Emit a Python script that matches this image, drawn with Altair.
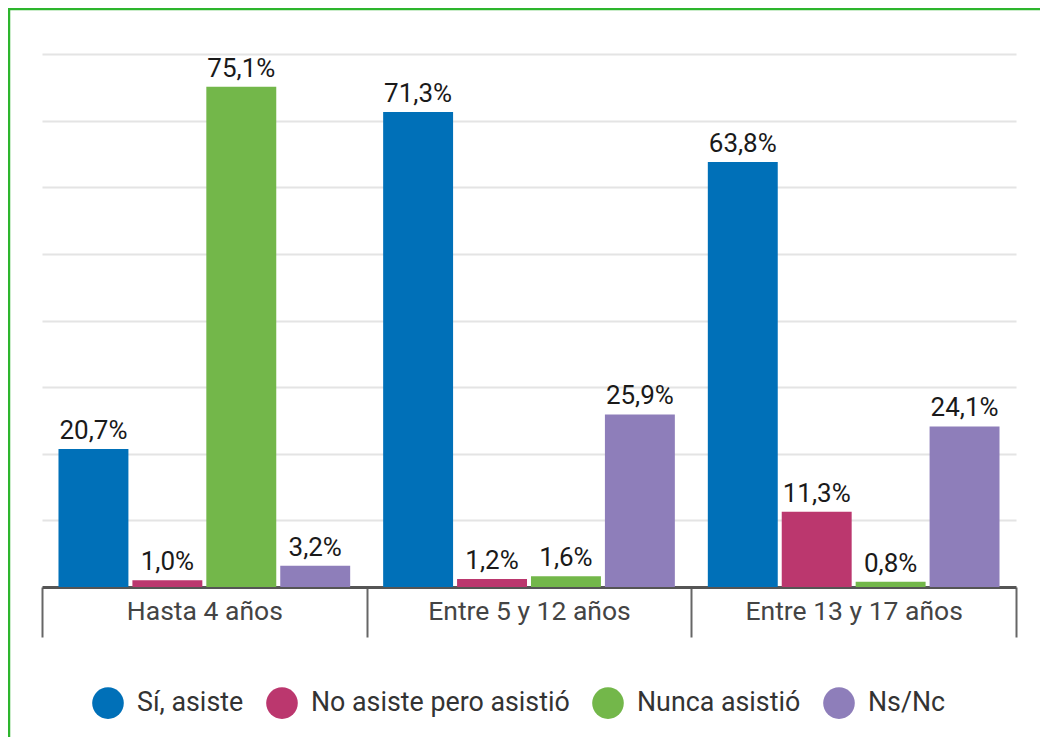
import altair as alt
import pandas as pd

grupos = ["Hasta 4 años", "Entre 5 y 12 años", "Entre 13 y 17 años"]
series = ["Sí, asiste", "No asiste pero asistió", "Nunca asistió", "Ns/Nc"]
colores = ["#0070b8", "#bb376e", "#73b74a", "#8e7eba"]
valores = {
    "Sí, asiste": [20.7, 71.3, 63.8],
    "No asiste pero asistió": [1.0, 1.2, 11.3],
    "Nunca asistió": [75.1, 1.6, 0.8],
    "Ns/Nc": [3.2, 25.9, 24.1],
}

rows = []
for s in series:
    for g, v in zip(grupos, valores[s]):
        rows.append({"grupo": g, "serie": s, "valor": v,
                     "etiqueta": f"{v:.1f}".replace(".", ",") + "%"})
df = pd.DataFrame(rows)

W, H = 974, 533
FONT = "Roboto"

x_enc = alt.X("grupo:N", sort=grupos,
              scale=alt.Scale(paddingInner=0, paddingOuter=0),
              axis=alt.Axis(title=None, tickBand="extent", tickSize=50, tickWidth=2,
                            tickColor="#666666", domainColor="#555555", domainWidth=3,
                            labelFont=FONT, labelFontSize=26.5, labelColor="#444444",
                            labelBaseline="middle", labelPadding=-26, grid=False,
                            labelAngle=0, labelLimit=400))
xo_enc = alt.XOffset("serie:N", sort=series,
                     scale=alt.Scale(paddingInner=0.054, paddingOuter=0.223))
y_enc = alt.Y("valor:Q", scale=alt.Scale(domain=[0, 80], nice=False),
              axis=alt.Axis(title=None, labels=False, ticks=False, domain=False,
                            values=[10, 20, 30, 40, 50, 60, 70, 80],
                            gridColor="#e4e4e4", gridWidth=2))

base = alt.Chart(df)

bars = base.mark_bar().encode(
    x=x_enc, xOffset=xo_enc, y=y_enc,
    color=alt.Color("serie:N", sort=series,
                    scale=alt.Scale(domain=series, range=colores),
                    legend=alt.Legend(title=None, orient="none", legendX=50, legendY=633,
                                      direction="horizontal", symbolType="circle",
                                      symbolSize=1000, symbolStrokeWidth=0,
                                      labelFont=FONT, labelFontSize=26.8,
                                      labelColor="#333333", labelOffset=13,
                                      columnPadding=22, labelLimit=400)),
)

labels = base.mark_text(baseline="bottom", dy=-5, font=FONT, fontSize=26,
                        color="#1a1a1a").encode(
    x=x_enc, xOffset=xo_enc, y=y_enc, text="etiqueta:N"
)

frame = alt.Chart(pd.DataFrame({"a": [0]})).mark_rect(
    fill=None, stroke="#2db52d", strokeWidth=2.5
).encode(
    x=alt.value(-33), x2=alt.value(1200), y=alt.value(-45), y2=alt.value(1000)
)

chart = alt.layer(bars, labels, frame).properties(
    width=W, height=H,
    autosize=alt.AutoSizeParams(type="none"),
    padding={"left": 34, "top": 46, "right": 24, "bottom": 150},
).configure_view(stroke=None)

chart.save("out.html", embed_options={"renderer": "svg", "actions": False})
